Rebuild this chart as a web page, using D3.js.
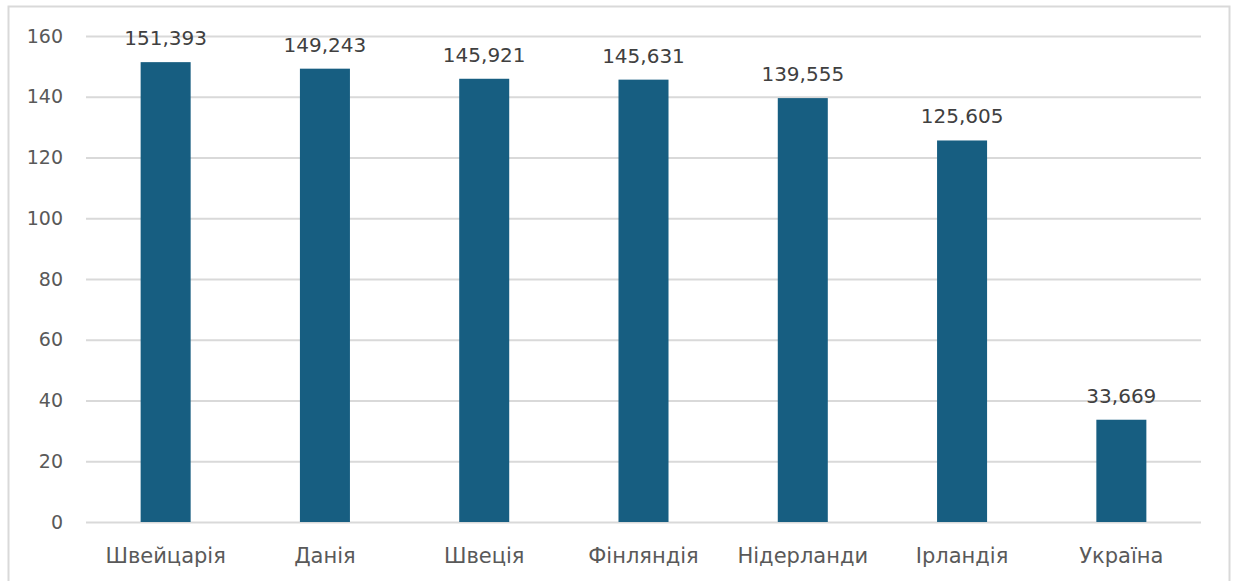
<!DOCTYPE html>
<html>
<head>
<meta charset="utf-8">
<script src="https://cdn.jsdelivr.net/npm/d3@7"></script>
<style>
  html, body { margin: 0; padding: 0; background: #fff; }
  svg text { font-family: "DejaVu Sans", "Liberation Sans", Arial, sans-serif; }
</style>
</head>
<body>
<svg id="chart" width="1233" height="581"></svg>
<script>
// Countries and their values
const categories = ["Швейцарія", "Данія", "Швеція", "Фінляндія", "Нідерланди", "Ірландія", "Україна"];
const values = [151.393, 149.243, 145.921, 145.631, 139.555, 125.605, 33.669];
const valueLabels = ["151,393", "149,243", "145,921", "145,631", "139,555", "125,605", "33,669"];
const yTicks = [0, 20, 40, 60, 80, 100, 120, 140, 160];

const svg = d3.select("#chart");

// Outer frame
svg.append("rect")
  .attr("x", 8.5).attr("y", 6.5)
  .attr("width", 1221).attr("height", 580)
  .attr("fill", "#fff").attr("stroke", "#d9d9d9").attr("stroke-width", 2);

const plot = { left: 86, right: 1201, top: 36, bottom: 522 };

const x = d3.scaleBand()
  .domain(categories)
  .range([plot.left, plot.right])
  .paddingInner(0.686)
  .paddingOuter(0.343);

const y = d3.scaleLinear()
  .domain([0, 160])
  .range([plot.bottom, plot.top]);

// Horizontal gridlines and y tick labels
const yAxis = d3.axisLeft(y)
  .tickValues(yTicks)
  .tickSize(-(plot.right - plot.left))
  .tickPadding(23)
  .tickFormat(d3.format("d"));

const gy = svg.append("g")
  .attr("transform", `translate(${plot.left},0)`)
  .call(yAxis);
gy.select(".domain").remove();
gy.selectAll(".tick line").attr("stroke", "#d9d9d9").attr("stroke-width", 2);
gy.selectAll(".tick text")
  .attr("fill", "#595959")
  .style("font-size", "19px");

// Bars
svg.append("g").selectAll("rect")
  .data(values)
  .join("rect")
  .attr("x", (d, i) => x(categories[i]))
  .attr("y", d => y(d))
  .attr("width", x.bandwidth())
  .attr("height", d => y(0) - y(d))
  .attr("fill", "#175e81");

// Value labels above bars
svg.append("g").selectAll("text")
  .data(values)
  .join("text")
  .attr("x", (d, i) => x(categories[i]) + x.bandwidth() / 2)
  .attr("y", d => y(d) - 17)
  .attr("text-anchor", "middle")
  .attr("fill", "#404040")
  .style("font-size", "20px")
  .text((d, i) => valueLabels[i]);

// Category axis labels
const xAxis = d3.axisBottom(x).tickSize(0).tickPadding(26);
const gx = svg.append("g")
  .attr("transform", `translate(0,${plot.bottom})`)
  .call(xAxis);
gx.select(".domain").remove();
gx.selectAll(".tick text")
  .attr("fill", "#595959")
  .style("font-size", "21px");
</script>
</body>
</html>
